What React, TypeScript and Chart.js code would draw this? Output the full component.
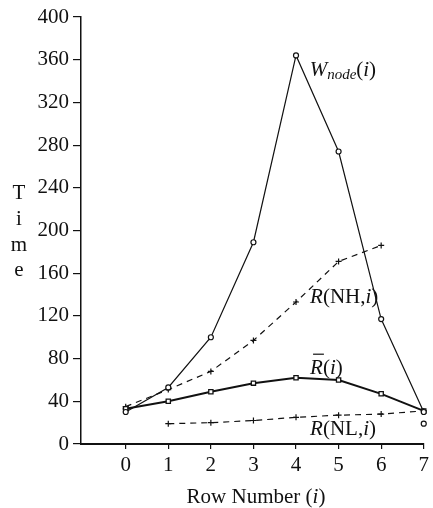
import React, { useEffect, useRef } from "react";
import { Chart, registerables } from "chart.js";

Chart.register(...registerables);

const rows = [0, 1, 2, 3, 4, 5, 6, 7];
const wNode = [30, 53, 100, 189, 364, 274, 117, 30];
const rBar = [33, 40, 49, 57, 62, 60, 47, 31];
const rNHRows = [0, 1, 2, 3, 4, 5, 6];
const rNH = [35, 51, 68, 97, 133, 171, 186];
const rNLRows = [1, 2, 3, 4, 5, 6, 7];
const rNL = [19, 20, 22, 25, 27, 28, 31];
const extraRows = [7, 0];
const extraVals = [19, 33];
const yTicks = [0, 40, 80, 120, 160, 200, 240, 280, 320, 360, 400];

const SERIF = "'Liberation Serif', 'Times New Roman', serif";
const INK = "#111";

const pts = (xs: number[], ys: number[]) => xs.map((x, i) => ({ x, y: ys[i] }));

const textPlugin = {
  id: "texts",
  afterDraw(chart: any) {
    const ctx = chart.ctx;
    const xs = chart.scales.x;
    const ys = chart.scales.y;
    ctx.save();
    ctx.fillStyle = INK;
    ctx.textBaseline = "middle";
    ctx.textAlign = "left";
    const seq = (x: number, y: number, parts: [string, string, number][]) => {
      let cx = x;
      for (const [t, f, dy] of parts) {
        ctx.font = f;
        ctx.fillText(t, cx, y + dy);
        cx += ctx.measureText(t).width;
      }
      return cx;
    };
    const it = "italic 21px " + SERIF;
    const rm = "21px " + SERIF;
    const sub = "italic 15px " + SERIF;
    // W_node(i)
    seq(xs.getPixelForValue(4.32), ys.getPixelForValue(350), [
      ["W", it, 0],
      ["node", sub, 5],
      ["(", rm, 0],
      ["i", it, 0],
      [")", rm, 0],
    ]);
    // R(NH,i)
    seq(xs.getPixelForValue(4.33), ys.getPixelForValue(137), [
      ["R", it, 0],
      ["(NH,", rm, 0],
      ["i", it, 0],
      [")", rm, 0],
    ]);
    // R-bar(i)
    const rbx = xs.getPixelForValue(4.33);
    const rby = ys.getPixelForValue(71);
    ctx.font = it;
    const rw = ctx.measureText("R").width;
    seq(rbx, rby, [
      ["R", it, 0],
      ["(", rm, 0],
      ["i", it, 0],
      [")", rm, 0],
    ]);
    ctx.strokeStyle = INK;
    ctx.lineWidth = 1.2;
    ctx.beginPath();
    ctx.moveTo(rbx + 3, rby - 14);
    ctx.lineTo(rbx + rw + 1, rby - 14);
    ctx.stroke();
    // R(NL,i)
    seq(xs.getPixelForValue(4.33), ys.getPixelForValue(14), [
      ["R", it, 0],
      ["(NL,", rm, 0],
      ["i", it, 0],
      [")", rm, 0],
    ]);
    // y title stacked
    ctx.textAlign = "center";
    ctx.font = rm;
    const letters = ["T", "i", "m", "e"];
    const ly = [193, 219, 245, 270];
    letters.forEach((l, i) => ctx.fillText(l, 19, ly[i]));
    // x title
    ctx.textAlign = "left";
    ctx.font = rm;
    const t1 = "Row Number (";
    ctx.font = it;
    const wi = ctx.measureText("i").width;
    ctx.font = rm;
    const total = ctx.measureText(t1).width + wi + ctx.measureText(")").width;
    seq(256 - total / 2, 497, [
      [t1, rm, 0],
      ["i", it, 0],
      [")", rm, 0],
    ]);
    ctx.restore();
  },
};

export default function App() {
  const ref = useRef<HTMLCanvasElement | null>(null);
  useEffect(() => {
    if (!ref.current) return;
    const tickFont = { family: SERIF, size: 21 };
    const chart = new Chart(ref.current, {
      type: "scatter",
      data: {
        datasets: [
          {
            label: "W_node(i)",
            data: pts(rows, wNode),
            showLine: true,
            borderColor: INK,
            borderWidth: 1.2,
            pointStyle: "circle",
            pointRadius: 2.5,
            pointBorderWidth: 1.2,
            pointBackgroundColor: "#fff",
            pointBorderColor: INK,
            clip: false,
          },
          {
            label: "R-bar(i)",
            data: pts(rows, rBar),
            showLine: true,
            borderColor: INK,
            borderWidth: 2,
            pointStyle: "rect",
            pointRadius: 3,
            pointBorderWidth: 1.3,
            pointBackgroundColor: "#fff",
            pointBorderColor: INK,
            clip: false,
          },
          {
            label: "R(NH,i)",
            data: pts(rNHRows, rNH),
            showLine: true,
            borderColor: INK,
            borderWidth: 1.2,
            borderDash: [6, 5],
            pointStyle: "cross",
            pointRadius: 3,
            pointBorderWidth: 1.2,
            pointBorderColor: INK,
            clip: false,
          },
          {
            label: "R(NL,i)",
            data: pts(rNLRows, rNL),
            showLine: true,
            borderColor: INK,
            borderWidth: 1.2,
            borderDash: [6, 5],
            pointStyle: "cross",
            pointRadius: 3,
            pointBorderWidth: 1.2,
            pointBorderColor: INK,
            clip: false,
          },
          {
            label: "extra",
            data: pts(extraRows, extraVals),
            showLine: false,
            pointStyle: "circle",
            pointRadius: 2.5,
            pointBorderWidth: 1.2,
            pointBackgroundColor: "#fff",
            pointBorderColor: INK,
            clip: false,
          },
        ],
      },
      options: {
        animation: false,
        responsive: false,
        maintainAspectRatio: false,
        layout: { padding: { left: 0, top: 17, right: 6, bottom: 0 } },
        plugins: {
          legend: { display: false },
          tooltip: { enabled: false },
          title: { display: false },
        },
        scales: {
          x: {
            type: "linear",
            min: -1.05,
            max: 7,
            afterBuildTicks: (s: any) => {
              s.ticks = rows.map((v) => ({ value: v }));
            },
            afterFit: (s: any) => {
              s.height = 64;
            },
            grid: {
              drawOnChartArea: false,
              drawTicks: true,
              tickLength: 5,
              color: INK,
              lineWidth: 1.2,
            },
            border: { color: INK, width: 2 },
            ticks: {
              font: tickFont,
              color: INK,
              padding: 4,
              maxRotation: 0,
              autoSkip: false,
            },
          },
          y: {
            type: "linear",
            min: 0,
            max: 400,
            afterBuildTicks: (s: any) => {
              s.ticks = yTicks.map((v) => ({ value: v }));
            },
            afterFit: (s: any) => {
              s.width = 81;
            },
            grid: {
              drawOnChartArea: false,
              drawTicks: true,
              tickLength: 8,
              color: INK,
              lineWidth: 1.2,
            },
            border: { color: INK, width: 1.5 },
            ticks: {
              font: tickFont,
              color: INK,
              padding: 4,
              autoSkip: false,
            },
          },
        },
      },
      plugins: [textPlugin],
    } as any);
    return () => chart.destroy();
  }, []);
  return (
    <div style={{ position: "fixed", left: 0, top: 0, width: 433, height: 508, background: "#fff" }}>
      <canvas ref={ref} width={433} height={508} style={{ width: 433, height: 508, display: "block" }} />
    </div>
  );
}
